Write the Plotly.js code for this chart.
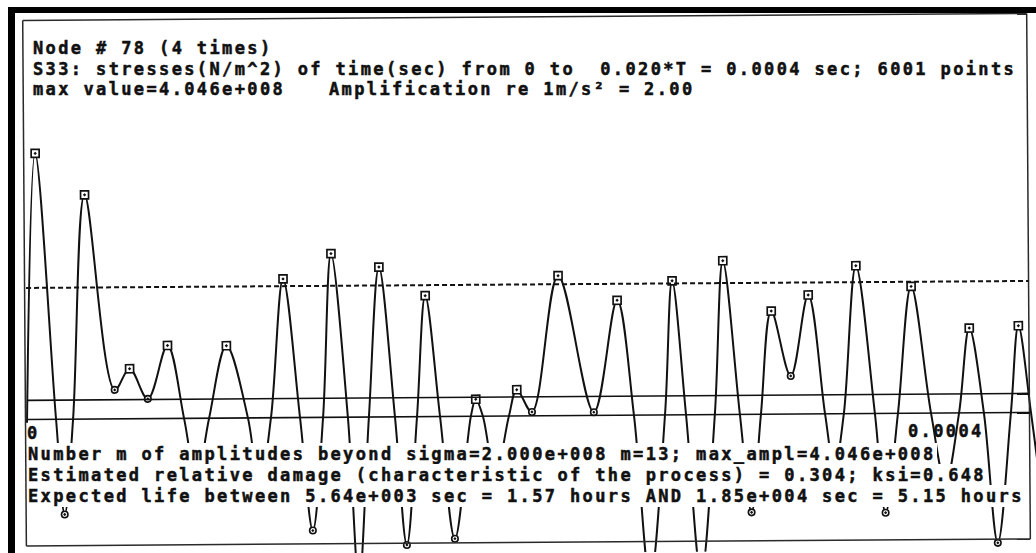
<!DOCTYPE html>
<html>
<head>
<meta charset="utf-8">
<script src="https://cdn.plot.ly/plotly-3.0.1.min.js"></script>
<style>
html,body{margin:0;padding:0;background:#fff;width:1036px;height:553px;overflow:hidden;}
#chart{position:absolute;left:0;top:0;width:1036px;height:553px;transform:rotate(-0.4deg);transform-origin:518px 276px;}
#labels{position:absolute;left:0;top:0;width:1036px;height:553px;}
.scanband{position:absolute;background:#000;}
.annotation-text{letter-spacing:2.37px;stroke:#111;stroke-width:0.5px;}
</style>
</head>
<body>
<div id="chart"></div>
<div id="labels"></div>
<div class="scanband" style="left:8px;top:7px;width:1028px;height:6px"></div>
<div class="scanband" style="left:8px;top:7px;width:7px;height:546px"></div>
<script>
// ---- data ----
// time of each extremum / zero crossing, microseconds
const timeUs = [0,4.0,11.6,14.8,18.4,23.6,35.1,41.1,48.3,56.3,62.7,67.5,72.7,79.8,88.2,92.6,97.4,102.6,109.0,113.8,
  118.2,121.8,128.1,132.1,136.5,140.9,146.9,151.3,155.7,159.3,164.9,170.5,177.2,179.2,182.0,186.8,192.4,195.6,201.6,212.4,
  226.3,235.9,242.3,248.3,254.7,257.9,263.1,268.7,274.6,278.2,284.6,289.0,293.0,297.4,305.0,312.2,318.6,322.2,326.1,331.3,
  338.5,342.5,347.7,353.3,360.9,366.5,372.1,376.4,382.0,387.2,392.8,396.0,400.8,405.6];
// S33 stress, units of 1e8 N/m^2
const stressE8 = [-0.05,4.046,0,-1.45,0,3.41,0.44,0.76,0.30,1.11,0,-0.94,0,1.10,0,-1.06,0,2.11,0,-1.72,
  0,2.49,0,-2.51,0,2.28,0,-1.95,0,1.84,0,-1.86,0,0.26,0,-0.91,0,0.40,0.06,2.13,
  0.05,1.75,0,-2.51,0,2.04,0,-2.43,0,2.34,0,-1.49,0,1.57,0.58,1.81,0,-0.84,0,2.25,
  0,-1.51,0,1.93,0,-1.06,0,1.29,0,-1.98,0,1.32,0,-1.52];
const sigmaLevel = 2.0e8;      // dashed line
const meanLevel = 0.29e8;      // upper solid line
const tEnd = 0.0004;           // sec
const maxValue = 4.046e8;

// ---- derived ----
const t = timeUs.map(v => v * 1e-6);
const s = stressE8.map(v => v * 1e8);
const pk = {x: [], y: []}, tr = {x: [], y: []};
for (let i = 1; i < s.length - 1; i++) {
  if (s[i] > s[i-1] && s[i] > s[i+1]) { pk.x.push(t[i]); pk.y.push(s[i]); }
  if (s[i] < s[i-1] && s[i] < s[i+1]) { tr.x.push(t[i]); tr.y.push(s[i]); }
}

// ---- layout geometry (pixels) ----
const W = 1036, H = 553;
const PX = x => x / W, PY = y => 1 - y / H;
const x0px = 26, xEndPx = 1028, zeroPx = 416, maxPx = 150;
const sx = tEnd / (xEndPx - x0px);           // sec per px
const sy = maxValue / (zeroPx - maxPx);      // N/m^2 per px
const xr = [-x0px * sx, (W - x0px) * sx];
const yr = [-(H - zeroPx) * sy, zeroPx * sy];

const ink = '#111111';
const fnt = {family: '"DejaVu Sans Mono", monospace', size: 17, color: ink, weight: 'bold'};
const NB = '\u00a0';

function ann(text, x, y, anchor, bg) {
  return {text: text, xref: 'paper', yref: 'paper', x: PX(x), y: PY(y), xanchor: anchor || 'left',
    yanchor: 'middle', showarrow: false, font: fnt, bgcolor: bg ? '#ffffff' : 'rgba(0,0,0,0)',
    borderwidth: 0, borderpad: bg ? 1 : 0, align: 'left'};
}

const frameLine = {color: '#2a2a2a', width: 1.5};
const shapes = [
  {type: 'line', xref: 'paper', yref: 'paper', x0: PX(24.5), x1: PX(1028.5), y0: PY(17), y1: PY(17), line: frameLine},
  {type: 'line', xref: 'paper', yref: 'paper', x0: PX(24.5), x1: PX(24.5), y0: PY(17), y1: PY(542.5), line: frameLine},
  {type: 'line', xref: 'paper', yref: 'paper', x0: PX(1028.5), x1: PX(1028.5), y0: PY(17), y1: PY(542.5), line: frameLine},
  {type: 'line', xref: 'paper', yref: 'paper', x0: PX(24.5), x1: PX(1028.5), y0: PY(542.5), y1: PY(542.5), line: frameLine},
  {type: 'line', xref: 'paper', yref: 'y', x0: PX(26), x1: PX(1028.5), y0: 0, y1: 0, line: {color: ink, width: 1.6}},
  {type: 'line', xref: 'paper', yref: 'y', x0: PX(26), x1: PX(1028.5), y0: meanLevel, y1: meanLevel, line: {color: ink, width: 1.6}},
  {type: 'line', xref: 'paper', yref: 'y', x0: PX(26), x1: PX(1028.5), y0: sigmaLevel, y1: sigmaLevel,
    line: {color: ink, width: 2, dash: '5px,3px'}}
];

const annotations = [
  ann('Node # 78 (4 times)', 33, 48),
  ann('S33: stresses(N/m^2) of time(sec) from 0 to' + NB + NB + '0.020*T = 0.0004 sec; 6001 points', 33, 69),
  ann('max value=4.046e+008', 33, 89),
  ann('Amplification re 1m/s\u00b2 = 2.00', 329, 89),
  ann('0', 27, 433),
  ann('0.0004', 984, 431, 'right'),
  ann('Number m of amplitudes beyond sigma=2.000e+008 m=13; max_ampl=4.046e+008', 27, 454, 'left', true),
  ann('Estimated relative damage (characteristic of the process) = 0.304; ksi=0.648', 27, 475, 'left', true),
  ann('Expected life between 5.64e+003 sec = 1.57 hours AND 1.85e+004 sec = 5.15 hours', 27, 496, 'left', true)
];

const traces = [
  {x: t, y: s, type: 'scatter', mode: 'lines', line: {color: ink, width: 2, shape: 'spline', smoothing: 1}, hoverinfo: 'skip'},
  {x: pk.x, y: pk.y, type: 'scatter', mode: 'markers',
    marker: {symbol: 'square-dot', size: 8, color: '#ffffff', line: {color: ink, width: 1.7}}},
  {x: tr.x, y: tr.y, type: 'scatter', mode: 'markers',
    marker: {symbol: 'circle-dot', size: 6.5, color: '#ffffff', line: {color: ink, width: 1.6}}}
];

const baseLayout = () => ({
  width: W, height: H, autosize: false,
  margin: {l: 0, r: 0, t: 0, b: 0, pad: 0},
  showlegend: false,
  xaxis: {range: xr, visible: false, showgrid: false, zeroline: false, fixedrange: true},
  yaxis: {range: yr, visible: false, showgrid: false, zeroline: false, fixedrange: true}
});

// plot layer (slightly tilted like the scanned page)
const plotLayout = Object.assign(baseLayout(), {paper_bgcolor: '#ffffff', plot_bgcolor: '#ffffff', shapes: shapes});
Plotly.newPlot('chart', traces, plotLayout, {staticPlot: true, displayModeBar: false});

// text layer (on top, masks the curve behind the text rows like the original printout)
const textLayout = Object.assign(baseLayout(), {paper_bgcolor: 'rgba(0,0,0,0)', plot_bgcolor: 'rgba(0,0,0,0)', annotations: annotations});
Plotly.newPlot('labels', [], textLayout, {staticPlot: true, displayModeBar: false});
</script>
</body>
</html>
